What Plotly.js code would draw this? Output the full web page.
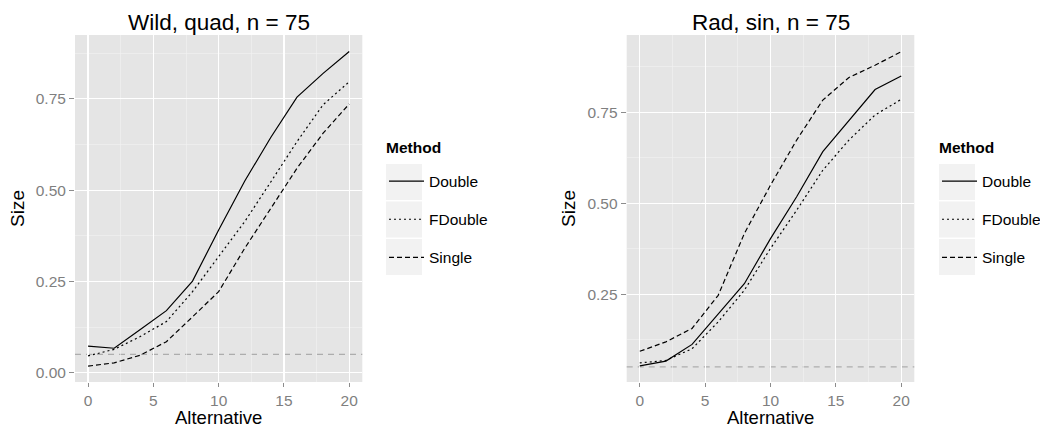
<!DOCTYPE html>
<html>
<head>
<meta charset="utf-8">
<script src="https://cdn.plot.ly/plotly-3.0.1.min.js"></script>
<style>html,body{margin:0;padding:0;background:#fff;}#chart{width:1040px;height:427px;}</style>
</head>
<body>
<div id="chart"></div>
<script>
// ---- data ----
var alternative = [0, 2, 4, 6, 8, 10, 12, 14, 16, 18, 20];
var methods = ["Double", "FDouble", "Single"];
var panelTitles = ["Wild, quad, n = 75", "Rad, sin, n = 75"];
var legendTitle = "Method";
var xTitle = "Alternative";
var yTitle = "Size";
var nominalLevel = 0.05;

var wildDouble  = [0.073, 0.067, 0.118, 0.170, 0.251, 0.391, 0.525, 0.645, 0.755, 0.820, 0.880];
var wildFDouble = [0.046, 0.064, 0.099, 0.140, 0.222, 0.318, 0.414, 0.523, 0.633, 0.734, 0.797];
var wildSingle  = [0.018, 0.027, 0.048, 0.085, 0.153, 0.222, 0.341, 0.450, 0.560, 0.656, 0.736];

var radDouble  = [0.053, 0.066, 0.112, 0.197, 0.279, 0.403, 0.518, 0.642, 0.729, 0.813, 0.850];
var radFDouble = [0.061, 0.068, 0.100, 0.174, 0.261, 0.376, 0.481, 0.591, 0.674, 0.743, 0.786];
var radSingle  = [0.093, 0.119, 0.156, 0.247, 0.417, 0.550, 0.674, 0.784, 0.846, 0.880, 0.917];

var xTicks = [0, 5, 10, 15, 20];
var yTicks = [0, 0.25, 0.5, 0.75];
var yTickLabels = ["0.00", "0.25", "0.50", "0.75"];

// ---- styling ----
var FONT = "Liberation Sans, Arial, Helvetica, sans-serif";
var dashes = {"Double": "solid", "FDouble": "2px,3px", "Single": "5px,3px"};
var W = 1040, H = 427;

function mk(y, name, xa, ya, leg) {
  return {
    x: alternative, y: y, name: name, type: "scatter", mode: "lines",
    xaxis: xa, yaxis: ya, legend: leg, legendgroup: name + leg,
    line: {color: "#000000", width: 1.2, dash: dashes[name]}
  };
}

var traces = [
  mk(wildDouble, methods[0], "x", "y", "legend"),
  mk(wildFDouble, methods[1], "x", "y", "legend"),
  mk(wildSingle, methods[2], "x", "y", "legend"),
  mk(radDouble, methods[0], "x2", "y2", "legend2"),
  mk(radFDouble, methods[1], "x2", "y2", "legend2"),
  mk(radSingle, methods[2], "x2", "y2", "legend2")
];

function xax(dom, anchor) {
  return {
    domain: dom, anchor: anchor, range: [-1, 21], tickvals: xTicks,
    showgrid: true, gridcolor: "#ffffff", gridwidth: 1.2, zeroline: false,
    showline: false, ticks: "outside", ticklen: 4, tickwidth: 1, tickcolor: "#8c8c8c",
    tickfont: {family: FONT, size: 15.5, color: "#7f7f7f"},
    minor: {dtick: 2.5, tick0: 0, showgrid: true, gridcolor: "#f2f2f2", gridwidth: 0.6, ticks: ""},
    automargin: false, fixedrange: true
  };
}
function yax(dom, anchor, rng) {
  return {
    domain: dom, anchor: anchor, range: rng, tickvals: yTicks, ticktext: yTickLabels,
    showgrid: true, gridcolor: "#ffffff", gridwidth: 1.2, zeroline: false,
    showline: false, ticks: "outside", ticklen: 5, tickwidth: 1, tickcolor: "#8c8c8c",
    tickfont: {family: FONT, size: 15.5, color: "#7f7f7f"},
    minor: {dtick: 0.125, tick0: 0, showgrid: true, gridcolor: "#f2f2f2", gridwidth: 0.6, ticks: ""},
    title: {text: yTitle, font: {family: FONT, size: 19, color: "#000"}, standoff: 6},
    automargin: false, fixedrange: true
  };
}

var yDom = [1 - 382 / H, 1 - 35 / H];
var x1Dom = [75 / W, 362.3 / W];
var x2Dom = [626.7 / W, 914.3 / W];

function legendObj(px, py) {
  return {
    x: px / W, y: 1 - py / H, xanchor: "left", yanchor: "top",
    bgcolor: "rgba(0,0,0,0)", borderwidth: 0, itemwidth: 35,
    tracegroupgap: 15,
    font: {family: FONT, size: 15.5, color: "#000"}
  };
}

function keyBoxes(x0) {
  var tops = [164, 201.5, 239];
  return tops.map(function (t) {
    return {type: "rect", xref: "paper", yref: "paper", x0: x0 / W, x1: (x0 + 36) / W,
      y0: 1 - (t + 36) / H, y1: 1 - t / H, fillcolor: "#f2f2f2", line: {width: 0}, layer: "below"};
  });
}

var shapes = [
  {type: "line", xref: "x domain", yref: "y", x0: 0, x1: 1, y0: nominalLevel, y1: nominalLevel,
   line: {color: "#adadad", width: 1.2, dash: "6px,5px"}, layer: "below"},
  {type: "line", xref: "x2 domain", yref: "y2", x0: 0, x1: 1, y0: nominalLevel, y1: nominalLevel,
   line: {color: "#adadad", width: 1.2, dash: "6px,5px"}, layer: "below"}
].concat(keyBoxes(386)).concat(keyBoxes(939));

function ann(text, px, py, size, bold, xanchor) {
  return {text: bold ? "<b>" + text + "</b>" : text, xref: "paper", yref: "paper",
    x: px / W, y: 1 - py / H, xanchor: xanchor, yanchor: "middle", showarrow: false,
    font: {family: FONT, size: size, color: "#000"}};
}

var layout = {
  width: W, height: H,
  margin: {l: 0, r: 0, t: 0, b: 0, autoexpand: false},
  paper_bgcolor: "#ffffff", plot_bgcolor: "#e5e5e5",
  font: {family: FONT},
  xaxis: xax(x1Dom, "y"),
  yaxis: yax(yDom, "x", [-0.0255, 0.925]),
  xaxis2: xax(x2Dom, "y2"),
  yaxis2: yax(yDom, "x2", [0.0086, 0.963]),
  legend: legendObj(384, 164.5),
  legend2: legendObj(937, 164.5),
  shapes: shapes,
  annotations: [
    ann(panelTitles[0], (75 + 362.3) / 2, 22, 22.5, false, "center"),
    ann(panelTitles[1], (626.7 + 914.3) / 2, 22, 22.5, false, "center"),
    ann(xTitle, (75 + 362.3) / 2, 417, 18.5, false, "center"),
    ann(xTitle, (626.7 + 914.3) / 2, 417, 18.5, false, "center"),
    ann(legendTitle, 384, 148, 15.5, true, "left"),
    ann(legendTitle, 937, 148, 15.5, true, "left")
  ],
  showlegend: true
};

Plotly.newPlot("chart", traces, layout, {displayModeBar: false, staticPlot: true});
</script>
</body>
</html>
